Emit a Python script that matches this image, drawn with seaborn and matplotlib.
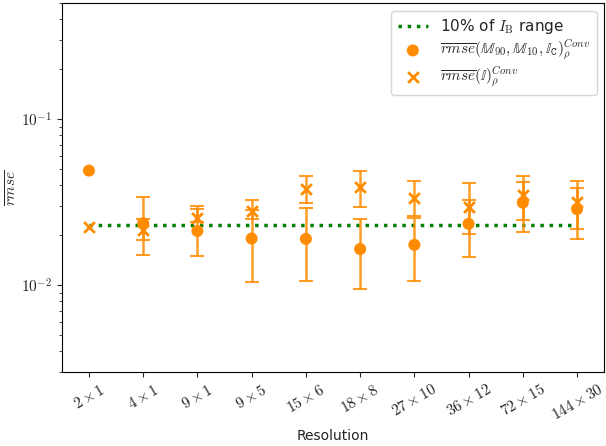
import matplotlib
matplotlib.use("Agg")
import matplotlib.pyplot as plt
from matplotlib.ticker import FuncFormatter, NullFormatter
import seaborn as sns
import numpy as np
import pandas as pd

sns.set_style("ticks")
plt.rcParams['font.family'] = ['DejaVu Sans']
plt.rcParams['mathtext.fontset'] = 'cm'

resolutions = [r"$2\times1$", r"$4\times1$", r"$9\times1$", r"$9\times5$", r"$15\times6$",
               r"$18\times8$", r"$27\times10$", r"$36\times12$", r"$72\times15$", r"$144\times30$"]

# series 1: rmse(M90, M10, Ic)
dot_mean = [0.0490, 0.0236, 0.0212, 0.0191, 0.0190, 0.0165, 0.0175, 0.0234, 0.0314, 0.0287]
dot_low  = [np.nan, 0.0151, 0.0150, 0.0104, 0.0106, 0.0095, 0.0106, 0.0148, 0.0210, 0.0189]
dot_high = [np.nan, 0.0342, 0.0287, 0.0285, 0.0292, 0.0252, 0.0255, 0.0414, 0.0416, 0.0386]

# series 2: rmse(I)
cross_mean = [0.0223, 0.0215, 0.0255, 0.0280, 0.0379, 0.0390, 0.0337, 0.0297, 0.0349, 0.0318]
cross_low  = [np.nan, 0.0187, 0.0240, 0.0249, 0.0311, 0.0297, 0.0262, 0.0202, 0.0247, 0.0217]
cross_high = [np.nan, 0.0249, 0.0300, 0.0326, 0.0452, 0.0488, 0.0424, 0.0326, 0.0452, 0.0422]

ref_level = 0.0230

orange = "#ff8c00"
x = np.arange(len(resolutions))
df = pd.DataFrame({"x": x, "dot": dot_mean, "cross": cross_mean,
                   "ref": [ref_level] * len(resolutions)})

fig, ax = plt.subplots(figsize=(6.06, 4.46), dpi=100)
fig.subplots_adjust(left=0.102, right=0.997, top=0.993, bottom=0.166)

sns.lineplot(data=df, x="x", y="ref", ax=ax, color="green", linestyle=":", linewidth=2.5,
             label=r"10% of $I_\mathrm{B}$ range")

dm = np.array(dot_mean); dl = np.array(dot_low); dh = np.array(dot_high)
cm = np.array(cross_mean); cl = np.array(cross_low); ch = np.array(cross_high)
mask = ~np.isnan(dl)
ax.errorbar(x[mask], dm[mask], yerr=[dm[mask] - dl[mask], dh[mask] - dm[mask]], fmt="none",
            ecolor=orange, elinewidth=1.8, capsize=5, capthick=1.5, alpha=0.85)
ax.errorbar(x[mask], cm[mask], yerr=[cm[mask] - cl[mask], ch[mask] - cm[mask]], fmt="none",
            ecolor=orange, elinewidth=1.8, capsize=5, capthick=1.5, alpha=0.85)

sns.scatterplot(data=df, x="x", y="dot", ax=ax, color=orange, marker="o", s=75,
                edgecolor="none", zorder=3,
                label=r"$\overline{rmse}(\mathbb{M}_{90},\mathbb{M}_{10},\mathbb{I}_\mathtt{C})^{Conv}_{\rho}$")
sns.scatterplot(data=df, x="x", y="cross", ax=ax, color=orange, marker="x", s=60,
                linewidth=2, zorder=3,
                label=r"$\overline{rmse}(\mathbb{I})^{Conv}_{\rho}$")

ax.set_yscale("log")
ax.set_ylim(0.003, 0.5)
ax.set_xlim(-0.5, 9.5)
ax.yaxis.set_major_formatter(FuncFormatter(lambda v, p: r"$10^{%d}$" % int(round(np.log10(v)))))
ax.yaxis.set_minor_formatter(NullFormatter())
ax.set_xticks(x)
ax.set_xticklabels(resolutions, rotation=30, fontsize=11)
ax.set_xlabel("Resolution", fontsize=10)
ax.set_ylabel(r"$\overline{rmse}$", fontsize=11)
ax.yaxis.set_label_coords(-0.077, 0.5)
ax.tick_params(axis="y", labelsize=11)
for s in ax.spines.values():
    s.set_visible(True)
    s.set_color("black")

ax.legend(loc="upper right", fontsize=11, frameon=True, labelspacing=0.15)
fig.savefig("out.png", dpi=100)
